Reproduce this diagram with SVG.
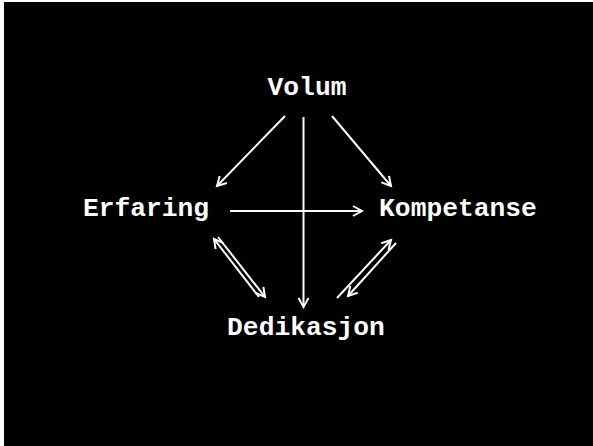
<svg xmlns="http://www.w3.org/2000/svg" width="593" height="446" viewBox="0 0 593 446">
<defs>
<style>
.lbl{font-family:"Liberation Mono","Courier New",monospace;font-weight:bold;font-size:26.3px;fill:#fff;text-anchor:middle}
.c{stroke:#fff;stroke-width:2;fill:none;marker-end:url(#ah)}
</style>
<marker id="ah" markerUnits="userSpaceOnUse" markerWidth="14" markerHeight="14" refX="10" refY="6" orient="auto">
<path d="M1,1 L10,6 L1,11" fill="none" stroke="#fff" stroke-width="2"/>
</marker>
</defs>
<rect x="0" y="0" width="593" height="446" fill="#fff"/>
<rect x="4" y="2" width="589" height="444" fill="#000"/>
<g id="connectors">
<line class="c" x1="285" y1="116" x2="217" y2="186"/>
<line class="c" x1="332" y1="116" x2="391" y2="186"/>
<line class="c" x1="303.5" y1="117" x2="303.5" y2="307"/>
<line class="c" x1="230" y1="211" x2="362" y2="211"/>
<line class="c" x1="259" y1="297" x2="214" y2="239"/>
<line class="c" x1="218" y1="237" x2="265" y2="297"/>
<line class="c" x1="337" y1="298" x2="391" y2="240"/>
<line class="c" x1="396" y1="243" x2="348" y2="296"/>
</g>
<g id="volum"><text class="lbl" x="307" y="95">Volum</text></g>
<g id="erfaring"><text class="lbl" x="146" y="216">Erfaring</text></g>
<g id="kompetanse"><text class="lbl" x="458" y="216">Kompetanse</text></g>
<g id="dedikasjon"><text class="lbl" x="306" y="335">Dedikasjon</text></g>
</svg>
